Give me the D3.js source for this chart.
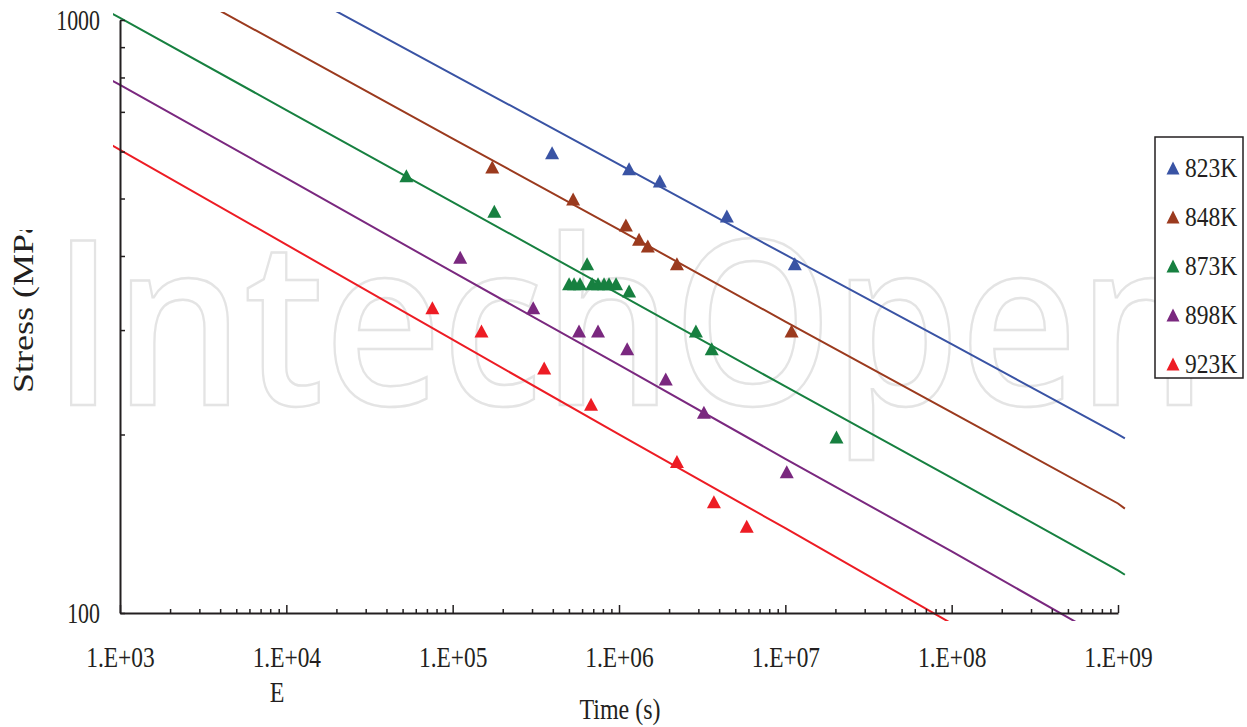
<!DOCTYPE html>
<html><head><meta charset="utf-8">
<script src="https://cdn.jsdelivr.net/npm/d3@7"></script>
<style>body{margin:0;background:#fff}svg{display:block}</style>
</head><body>
<svg id="c" width="1247" height="727"></svg>
<script>
// ---------- data ----------
const series = ["823K", "848K", "873K", "898K", "923K"];
const colors = ["#3953a4", "#9b3a1e", "#178040", "#7a287f", "#ed1c24"];

// model lines: stress (MPa) at these times (s)
const lineTimes = [9e2, 1e3, 1e4, 1e5, 1e6, 1e7, 1e8, 1e9, 1.1e9];
const line823 = [1656, 1630, 1149, 810, 571, 402, 284, 200, 197];
const line848 = [1304, 1282, 900, 631, 443, 310, 218, 153, 150];
const line873 = [1024, 1008, 705, 493, 345, 241, 169, 118, 116];
const line898 = [790, 777, 541, 376, 262, 182, 127, 88, 87];
const line923 = [614, 604, 418, 289, 200, 139, 96, 67, 66];

// experimental points
const time823 = [3.96e5, 1.15e6, 1.76e6, 4.45e6, 1.14e7];
const stress823 = [597, 561, 535, 467, 388];
const time848 = [1.73e5, 5.30e5, 1.10e6, 1.32e6, 1.49e6, 2.23e6, 1.09e7];
const stress848 = [565, 499, 451, 427, 416, 388, 299];
const time873 = [5.27e4, 1.78e5, 5.01e5, 5.37e5, 5.83e5, 6.43e5, 6.89e5, 7.48e5, 8.13e5, 8.71e5, 9.60e5, 1.15e6, 2.90e6, 3.61e6, 2.03e7];
const stress873 = [546, 476, 359, 359, 359, 388, 359, 359, 359, 359, 359, 349, 299, 279, 198];
const time898 = [1.11e5, 3.05e5, 5.75e5, 7.48e5, 1.12e6, 1.91e6, 3.24e6, 1.02e7];
const stress898 = [398, 327, 299, 299, 279, 248, 218, 173];
const time923 = [7.55e4, 1.49e5, 3.55e5, 6.79e5, 2.23e6, 3.72e6, 5.86e6];
const stress923 = [327, 299, 259, 225, 180, 154, 140];

const xMajorTicks = [1e3, 1e4, 1e5, 1e6, 1e7, 1e8, 1e9];
const xTickLabels = ["1.E+03", "1.E+04", "1.E+05", "1.E+06", "1.E+07", "1.E+08", "1.E+09"];
const yTicks = [100, 200, 300, 400, 500, 600, 700, 800, 900, 1000];
const yTickLabels = {100: "100", 1000: "1000"};

// ---------- drawing ----------
const lineStress = [line823, line848, line873, line898, line923];
const ptTimes = [time823, time848, time873, time898, time923];
const ptStress = [stress823, stress848, stress873, stress898, stress923];

const svg = d3.select("#c");
const serif = "'Liberation Serif','Times New Roman',serif";
const ink = "#231f20";

const x = d3.scaleLog().domain([1e3, 1e9]).range([120, 1118]);
const y = d3.scaleLog().domain([100, 1000]).range([613, 20]);

const defs = svg.append("defs");
defs.append("clipPath").attr("id", "plotclip")
  .append("rect").attr("x", 113).attr("y", 12).attr("width", 1013).attr("height", 609);
defs.append("clipPath").attr("id", "ylabclip")
  .append("rect").attr("x", 0).attr("y", 230).attr("width", 80).attr("height", 250);

// watermark
svg.append("text")
  .attr("x", 52).attr("y", 405)
  .attr("font-family", "'Open Sans',Lato,sans-serif")
  .attr("font-weight", 600)
  .attr("font-size", 230)
  .attr("textLength", 1155).attr("lengthAdjust", "spacingAndGlyphs")
  .attr("fill", "none").attr("stroke", "#e4e4e4").attr("stroke-width", 2.5)
  .text("IntechOpen");

// lines
const line = d3.line().x(d => x(d[0])).y(d => y(d[1]));
const lg = svg.append("g").attr("clip-path", "url(#plotclip)");
series.forEach((k, i) => {
  lg.append("path")
    .datum(lineTimes.map((t, j) => [t, lineStress[i][j]]))
    .attr("d", line)
    .attr("fill", "none")
    .attr("stroke", colors[i])
    .attr("stroke-width", 2);
});

// axes
const xTicks = [];
for (let d = 3; d < 9; d++) for (let m = 1; m <= 9; m++) xTicks.push(m * Math.pow(10, d));
xTicks.push(1e9);
const isMajor = v => Math.abs(Math.log10(v) - Math.round(Math.log10(v))) < 1e-9;

const xAxis = d3.axisBottom(x).tickValues(xTicks)
  .tickSizeInner(-4).tickSizeOuter(0).tickPadding(33)
  .tickFormat(v => { const k = xMajorTicks.findIndex(m => Math.abs(m - v) / m < 1e-9); return k >= 0 ? xTickLabels[k] : ""; });
const gx = svg.append("g").attr("transform", "translate(0,613)").call(xAxis);
gx.attr("font-family", serif).attr("font-size", 30);
gx.select(".domain").attr("stroke", ink).attr("stroke-width", 2);
gx.selectAll(".tick line").attr("stroke", ink).attr("stroke-width", 1.5)
  .attr("y2", d => isMajor(d) ? -8 : -4);
gx.selectAll(".tick text").attr("fill", ink).attr("transform", "scale(0.78,1)");

const yAxis = d3.axisLeft(y).tickValues(yTicks)
  .tickSizeInner(-5).tickSizeOuter(0).tickPadding(20)
  .tickFormat(v => yTickLabels[v] || "");
const gy = svg.append("g").attr("transform", "translate(120,0)").call(yAxis);
gy.attr("font-family", serif).attr("font-size", 30);
gy.select(".domain").attr("stroke", ink).attr("stroke-width", 2);
gy.selectAll(".tick line").attr("stroke", ink).attr("stroke-width", 1.5);
gy.selectAll(".tick text").attr("fill", ink).attr("x", -20 / 0.73).attr("transform", "scale(0.73,1)");

// points
const tri = "M0,-6.5L7,6.5L-7,6.5Z";
series.forEach((k, i) => {
  svg.append("g").selectAll("path")
    .data(ptTimes[i].map((t, j) => [t, ptStress[i][j]]))
    .join("path")
    .attr("d", tri)
    .attr("transform", d => `translate(${x(d[0])},${y(d[1])})`)
    .attr("fill", colors[i]);
});

// axis titles
const ylab = svg.append("g").attr("clip-path", "url(#ylabclip)")
  .append("g").attr("transform", "translate(33,393) rotate(-90)");
ylab.append("text").attr("transform", "scale(1.2,1)")
  .attr("font-family", serif).attr("font-size", 30).attr("fill", ink)
  .text("Stress (MPa)");

svg.append("g").attr("transform", "translate(620,719)")
  .append("text").attr("transform", "scale(0.8,1)").attr("text-anchor", "middle")
  .attr("font-family", serif).attr("font-size", 30).attr("fill", ink).text("Time (s)");
svg.append("g").attr("transform", "translate(277,702)")
  .append("text").attr("transform", "scale(0.8,1)").attr("text-anchor", "middle")
  .attr("font-family", serif).attr("font-size", 30).attr("fill", ink).text("E");

// legend
const leg = svg.append("g");
leg.append("rect").attr("x", 1155).attr("y", 137).attr("width", 88).attr("height", 241)
  .attr("fill", "#fff").attr("stroke", ink).attr("stroke-width", 1.5);
series.forEach((k, i) => {
  const by = 177 + i * 49;
  leg.append("path").attr("d", "M0,-6.5L6.5,6.5L-6.5,6.5Z")
    .attr("transform", `translate(1173,${by - 9})`).attr("fill", colors[i]);
  leg.append("g").attr("transform", `translate(1185,${by})`)
    .append("text").attr("transform", "scale(0.84,1)")
    .attr("font-family", serif).attr("font-size", 28).attr("fill", ink).text(k);
});
</script>
</body></html>
